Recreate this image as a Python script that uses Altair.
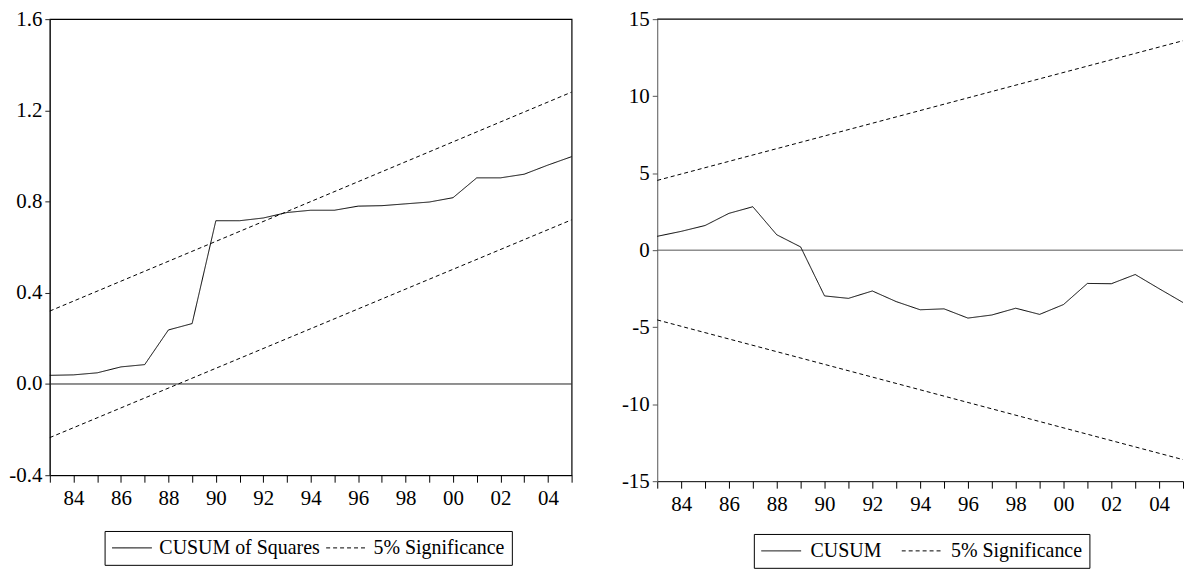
import json
import altair as alt
import pandas as pd

# ---------------- data ----------------
years = list(range(1983, 2006))

# left panel: CUSUM of Squares
cusumsq = [0.038, 0.040, 0.049, 0.075, 0.085, 0.237, 0.265, 0.716, 0.716, 0.728,
           0.752, 0.762, 0.762, 0.780, 0.782, 0.790, 0.798, 0.817, 0.904, 0.904,
           0.920, 0.960, 0.997]
sq_band_years = [1983, 2005]
sq_upper = [0.32, 1.28]
sq_lower = [-0.235, 0.72]

# right panel: CUSUM
cusum = [0.90, 1.22, 1.60, 2.39, 2.82, 1.00, 0.21, -2.97, -3.13, -2.65,
         -3.34, -3.87, -3.81, -4.41, -4.21, -3.77, -4.17, -3.53, -2.16, -2.18,
         -1.58, -2.50, -3.40]
cu_band_years = [1983, 2005]
cu_upper = [4.53, 13.6]
cu_lower = [-4.53, -13.6]

x_tick_labels = ["84", "86", "88", "90", "92", "94", "96", "98", "00", "02", "04"]
left_y_ticks = [-0.4, 0.0, 0.4, 0.8, 1.2, 1.6]
left_y_labels = ["-0.4", "0.0", "0.4", "0.8", "1.2", "1.6"]
right_y_ticks = [-15, -10, -5, 0, 5, 10, 15]
right_y_labels = ["-15", "-10", "-5", "0", "5", "10", "15"]

left_series = ["CUSUM of Squares", "5% Significance"]
right_series = ["CUSUM", "5% Significance"]

FONT = "Liberation Serif"

# ---------------- tables ----------------
def make_table(main_name, main_vals, band_name, band_years, upper, lower):
    rows = []
    for y, v in zip(years, main_vals):
        rows.append({"year": y, "value": v, "series": main_name, "band": "main"})
    for y, v in zip(band_years, upper):
        rows.append({"year": y, "value": v, "series": band_name, "band": "upper"})
    for y, v in zip(band_years, lower):
        rows.append({"year": y, "value": v, "series": band_name, "band": "lower"})
    return pd.DataFrame(rows)


left_df = make_table(left_series[0], cusumsq, left_series[1], sq_band_years, sq_upper, sq_lower)
right_df = make_table(right_series[0], cusum, right_series[1], cu_band_years, cu_upper, cu_lower)

# label for every yearly tick (only even years labelled)
year_labels = []
for y in years:
    if y % 2 == 0:
        year_labels.append(x_tick_labels[(y - 1984) // 2])
    else:
        year_labels.append("")
x_label_expr = f"{json.dumps(year_labels)}[datum.value - {years[0]}]"


def y_label_expr(vals, labels):
    return f"{json.dumps(labels)}[indexof({json.dumps(vals)}, datum.value)]"


def panel(df, series_names, yticks, ylabels, ydom, width, height,
          legend_x, legend_y, col_pad, label_off, axis_color, top_border):
    x_enc = alt.X(
        "year:Q",
        scale=alt.Scale(domain=[years[0], years[-1]], nice=False, zero=False),
        axis=alt.Axis(values=years, labelExpr=x_label_expr, title=None,
                      tickSize=7, labelPadding=5, grid=False, labelFlush=False,
                      labelOverlap=False, domainColor="black", tickColor="black",
                      labelFont=FONT, labelFontSize=21, labelColor="black"),
    )
    y_enc = alt.Y(
        "value:Q",
        scale=alt.Scale(domain=ydom, nice=False, zero=False),
        axis=alt.Axis(values=yticks, labelExpr=y_label_expr(yticks, ylabels),
                      title=None, tickSize=5, labelPadding=3, grid=False,
                      domainColor=axis_color, tickColor=axis_color,
                      labelFont=FONT, labelFontSize=21, labelColor="black",
                      labelOverlap=False),
    )
    lines = alt.Chart(df).mark_line(color="black", strokeWidth=1).encode(
        x=x_enc,
        y=y_enc,
        strokeDash=alt.StrokeDash(
            "series:N",
            scale=alt.Scale(domain=series_names, range=[[1, 0], [4, 3]]),
            sort=series_names,
            legend=alt.Legend(
                orient="none", legendX=legend_x, legendY=legend_y,
                direction="horizontal", title=None,
                labelFont=FONT, labelFontSize=20, labelColor="black",
                labelLimit=500, symbolType="stroke", symbolSize=1600,
                symbolStrokeWidth=1, symbolStrokeColor="black",
                strokeColor="black", fillColor="white", padding=7,
                columnPadding=col_pad, labelOffset=label_off, clipHeight=20,
            ),
        ),
        detail="band:N",
    )
    zero_df = pd.DataFrame({"value": [0]})
    zero = alt.Chart(zero_df).mark_rule(color=axis_color, strokeWidth=1).encode(
        y=alt.Y("value:Q")
    )
    layers = [zero, lines]
    if top_border is not None:
        top_df = pd.DataFrame({"value": [top_border]})
        layers.append(alt.Chart(top_df).mark_rule(color="black", strokeWidth=1.2).encode(
            y=alt.Y("value:Q")))
    ch = alt.layer(*layers).properties(width=width, height=height)
    return ch


left = panel(left_df, left_series, left_y_ticks, left_y_labels, [-0.4, 1.6],
             524, 458, 55, 514, 5, 7, "#222222", None)
right = panel(right_df, right_series, right_y_ticks, right_y_labels, [-15, 15],
              528, 464, 97, 517, 19, 9, "#555555", 15).properties(
    view=alt.ViewBackground(stroke="transparent"))

chart = (
    alt.hconcat(left, right, spacing=46)
    .resolve_scale(strokeDash="independent")
    .resolve_legend(strokeDash="independent")
    .properties(padding={"top": -2, "left": 0, "right": 0, "bottom": 0},
                background="white")
    .configure_view(stroke="black", strokeWidth=1.2)
)

chart.save("out.html", embed_options={"renderer": "svg", "actions": False})
